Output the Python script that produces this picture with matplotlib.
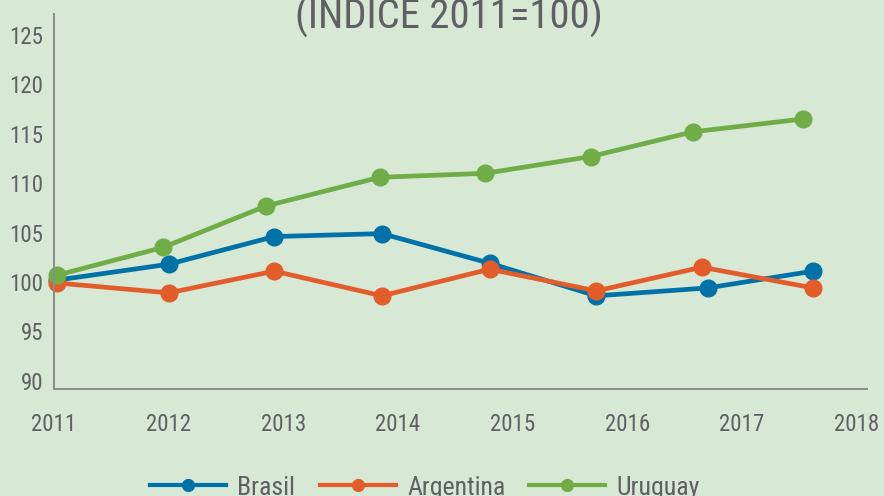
import matplotlib
matplotlib.use('Agg')
import matplotlib.pyplot as plt
from matplotlib import font_manager as fm
from matplotlib.textpath import TextPath
from matplotlib.lines import Line2D

# ── Data ──────────────────────────────────────────────────────────────────────
brasil_x = [2011.03, 2012.00, 2012.92, 2013.86, 2014.80, 2015.73, 2016.70, 2017.62]
brasil_y = [100.2, 101.8, 104.6, 104.9, 101.9, 98.6, 99.4, 101.1]

argentina_x = [2011.03, 2012.00, 2012.92, 2013.86, 2014.80, 2015.73, 2016.65, 2017.62]
argentina_y = [99.9, 98.9, 101.1, 98.6, 101.3, 99.1, 101.5, 99.4]

uruguay_x = [2011.03, 2011.95, 2012.85, 2013.84, 2014.76, 2015.68, 2016.57, 2017.53]
uruguay_y = [100.7, 103.5, 107.7, 110.6, 111.0, 112.7, 115.2, 116.5]

year_ticks = [2011, 2012, 2013, 2014, 2015, 2016, 2017, 2018]
value_ticks = [90, 95, 100, 105, 110, 115, 120, 125]
names = ['Brasil', 'Argentina', 'Uruguay']

BG = '#d7e8d5'
TXT = '#5f6062'
AXIS = '#8a8c8a'
COLORS = ['#0072a8', '#e35d2b', '#70ad47']


# ── Font: prefer a narrow face, the original type is condensed ───────────────
def pick_font():
    prefs = ['Liberation Sans Narrow', 'Roboto Condensed', 'Open Sans Condensed',
             'Open Sans', 'Roboto', 'Noto Sans', 'DejaVu Sans', 'Lato', 'Inter']
    cands = [f for f in fm.fontManager.ttflist
             if f.stretch in ('condensed', 'semi-condensed', 'extra-condensed')
             and f.style == 'normal' and f.weight in (300, 350, 400, 'normal', 'light', 'book')
             and 'CJK' not in f.name]
    for p in prefs:
        for f in cands:
            if f.name == p:
                return f.fname
    return cands[0].fname if cands else fm.findfont('Lato')


FONT = pick_font()


def fit(text, width_px, cap_px):
    fp = fm.FontProperties(fname=FONT)
    w = TextPath((0, 0), text, size=10, prop=fp).get_extents().width
    h = TextPath((0, 0), 'H', size=10, prop=fp).get_extents().height
    size = min(10 * width_px * 0.72 / w, 10 * cap_px * 0.72 / h)
    return fm.FontProperties(fname=FONT, size=size)


fp_tick = fit('2011', 40, 18)
fp_title = fit('(INDICE 2011=100)', 312, 29)
fp_leg = fit('Argentina', 97, 20)

fig = plt.figure(figsize=(8.84, 4.96), dpi=100)
fig.patch.set_facecolor(BG)
ax = fig.add_axes([54/884, 1-389/496, (867-54)/884, (389-14)/496])
ax.set_facecolor(BG)

series = [(brasil_x, brasil_y), (argentina_x, argentina_y), (uruguay_x, uruguay_y)]
for (xs, ys), name, col in zip(series, names, COLORS):
    ax.plot(xs, ys, color=col, linewidth=3.4, marker='o', markersize=12,
            label=name, solid_capstyle='butt', clip_on=False)

ax.set_xlim(2011.03, 2018.09)
ax.set_ylim(89.17, 127.13)
ax.set_xticks(year_ticks, labels=[str(y) for y in year_ticks], fontproperties=fp_tick)
ax.set_yticks(value_ticks, labels=[str(v) for v in value_ticks], fontproperties=fp_tick)
ax.tick_params(length=0, labelcolor=TXT)
ax.tick_params(axis='x', pad=17)
ax.tick_params(axis='y', pad=8)

for s in ['top', 'right']:
    ax.spines[s].set_visible(False)
for s in ['left', 'bottom']:
    ax.spines[s].set_color(AXIS)
    ax.spines[s].set_linewidth(1.4)

fig.text(449/884, 1-29/496, '(INDICE 2011=100)', ha='center', va='baseline',
         fontproperties=fp_title, color=TXT)

# ── Legend (drawn per entry to keep the original spacing) ────────────────────
W, H = 884, 496
leg_x = [150, 320, 529]
for x0, name, col in zip(leg_x, names, COLORS):
    fig.add_artist(Line2D([x0/W, (x0+76)/W], [1-485/H, 1-485/H], color=col,
                          linewidth=3.0, transform=fig.transFigure))
    fig.add_artist(Line2D([(x0+38)/W], [1-485/H], color=col, marker='o',
                          markersize=8.5, transform=fig.transFigure))
    fig.text((x0+87)/W, 1-495/H, name, ha='left', va='baseline',
             fontproperties=fp_leg, color=TXT)

fig.savefig('out.png', dpi=100, facecolor=BG)
